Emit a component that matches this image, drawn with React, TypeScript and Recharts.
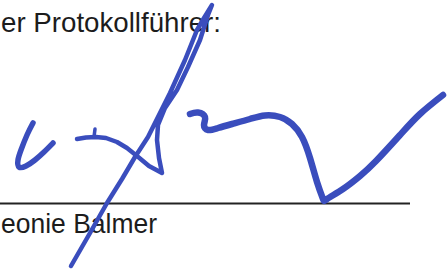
import React from "react";
import { ScatterChart, Scatter, XAxis, YAxis, Customized } from "recharts";

type P = { x: number; y: number };

const headerText = "er Protokollführer:";
const nameText = "eonie Balmer";

const ruleLine: P[] = [
  { x: 0, y: 203.5 },
  { x: 410, y: 203.5 },
];

const strokeHook: P[] = [
  { x: 33, y: 123 },
  { x: 27, y: 135 },
  { x: 21, y: 150 },
  { x: 18, y: 160 },
  { x: 19, y: 167 },
  { x: 26, y: 166 },
  { x: 35, y: 160 },
  { x: 44, y: 152 },
  { x: 53, y: 143 },
];

const strokeCross: P[] = [
  { x: 77, y: 139 },
  { x: 86, y: 137.5 },
  { x: 96, y: 137 },
  { x: 106, y: 138 },
  { x: 117, y: 142 },
  { x: 127, y: 148 },
  { x: 137, y: 156 },
  { x: 149, y: 166 },
  { x: 162, y: 173 },
  { x: 159, y: 158 },
  { x: 157, y: 140 },
  { x: 158, y: 125 },
  { x: 165, y: 108 },
  { x: 177, y: 90 },
  { x: 188, y: 67 },
  { x: 200, y: 40 },
  { x: 208, y: 15 },
  { x: 212, y: 5 },
  { x: 204, y: 18 },
  { x: 197, y: 30 },
  { x: 185, y: 60 },
  { x: 170, y: 93 },
  { x: 160, y: 113 },
  { x: 148, y: 137 },
  { x: 135, y: 157 },
  { x: 122, y: 179 },
  { x: 107, y: 203 },
  { x: 90, y: 233 },
  { x: 71, y: 266 },
];

const strokeTick: P[] = [
  { x: 94, y: 137 },
  { x: 95, y: 129 },
];

const strokeWave: P[] = [
  { x: 190, y: 114 },
  { x: 198, y: 112.5 },
  { x: 205, y: 117 },
  { x: 204, y: 125 },
  { x: 208, y: 130 },
  { x: 218, y: 128 },
  { x: 232, y: 124 },
  { x: 250, y: 119 },
  { x: 265, y: 115.5 },
  { x: 280, y: 117 },
  { x: 292, y: 124 },
  { x: 302, y: 137 },
  { x: 310, y: 158 },
  { x: 317, y: 182 },
  { x: 323, y: 199 },
  { x: 327, y: 199 },
  { x: 343, y: 189 },
  { x: 360, y: 176 },
  { x: 376, y: 161 },
  { x: 400, y: 135 },
  { x: 420, y: 114 },
  { x: 443, y: 95 },
];

const INK = "#3a4dbd";
const TEXT = "#1c1c1c";

const Texts = () => (
  <g fontFamily="'Liberation Sans', Arial, sans-serif" fontSize={28} fill={TEXT}>
    <text x={1} y={32} textLength={220} lengthAdjust="spacingAndGlyphs">{headerText}</text>
    <text x={1} y={233} textLength={156} lengthAdjust="spacingAndGlyphs">{nameText}</text>
  </g>
);

const NoShape = () => <g />;

const stroke = (color: string, w: number, cap: "round" | "butt" = "round") => ({
  stroke: color,
  strokeWidth: w,
  strokeLinecap: cap,
  strokeLinejoin: "round" as const,
  fill: "none",
});

export default function App() {
  return (
    <div style={{ position: "fixed", left: 0, top: 0, width: 448, height: 275, background: "#fff" }}>
      <ScatterChart width={448} height={275} margin={{ top: 0, right: 0, bottom: 0, left: 0 }}>
        <XAxis type="number" dataKey="x" domain={[0, 448]} hide allowDataOverflow />
        <YAxis type="number" dataKey="y" domain={[0, 275]} reversed hide allowDataOverflow />
        <Customized component={Texts} />
        <Scatter data={ruleLine} line={stroke("#222", 2, "butt")} lineType="joint" lineJointType="linear" shape={NoShape} isAnimationActive={false} />
        <Scatter data={strokeHook} line={stroke(INK, 5.5)} lineType="joint" lineJointType="natural" shape={NoShape} isAnimationActive={false} />
        <Scatter data={strokeCross} line={stroke(INK, 4.5)} lineType="joint" lineJointType="linear" shape={NoShape} isAnimationActive={false} />
        <Scatter data={strokeTick} line={stroke(INK, 3.5)} lineType="joint" lineJointType="linear" shape={NoShape} isAnimationActive={false} />
        <Scatter data={strokeWave} line={stroke(INK, 6.5)} lineType="joint" lineJointType="natural" shape={NoShape} isAnimationActive={false} />
      </ScatterChart>
    </div>
  );
}
